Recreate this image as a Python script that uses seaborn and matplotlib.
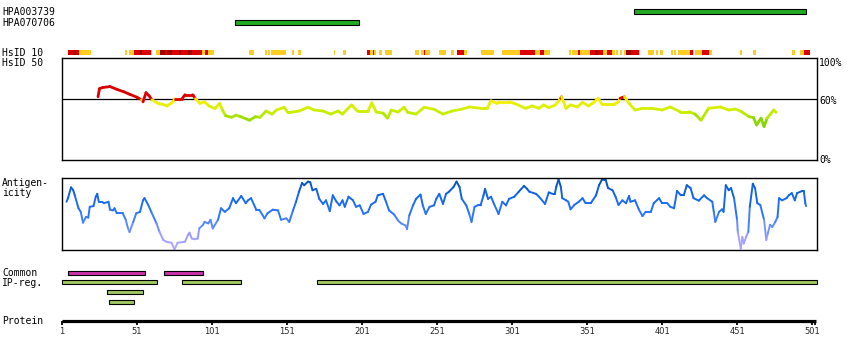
import numpy as np
import pandas as pd
import matplotlib
matplotlib.use("Agg")
import matplotlib.pyplot as plt
import seaborn as sns
from matplotlib.collections import LineCollection
from matplotlib.colors import LinearSegmentedColormap

sns.set_style("white")
plt.rcParams['font.family'] = ['DejaVu Sans Mono', 'DejaVu Sans']

# ---------------- data ----------------
protein_end = 504.3

antibody_names = ["HPA003739", "HPA070706"]
antibody_start = [382, 116]
antibody_end = [497, 199]

# HsID 10 strip: start, end, level (1 = moderate, 2 = high, 3 = very high)
hsid10_start = [5, 8, 10, 12, 43, 45.5, 49, 53, 54, 60, 63.5, 66.5, 69.5, 71, 74, 79, 80, 85, 87.5, 94,
                96.5, 98, 125.5, 136.5, 138.5, 140.5, 154.5, 158.5, 182, 188, 204, 204.5, 206.5, 208,
                209, 212, 216, 236, 240, 242, 243, 252, 260.5, 264, 264.5, 269, 280, 294, 306.5, 316,
                319.5, 322.5, 339, 341, 345, 346.5, 353, 356, 358.5, 361.5, 364.5, 367.5, 370, 373,
                375.5, 377, 380.5, 385.5, 391.5, 397, 399.5, 407, 409, 411.5, 419.5, 421.5, 423,
                427.5, 432, 453, 461.5, 487.5, 493, 495.5]
hsid10_end = [8, 10, 12, 20, 44, 49, 53, 54, 60, 61, 66.5, 69.5, 71, 74, 79, 80, 85, 87.5, 94, 96.5,
              98, 102, 129, 137.5, 139.5, 150, 155.5, 160, 183, 190.5, 204.5, 206.5, 208, 209,
              210.5, 214.5, 221, 239, 242, 243, 246, 257, 262, 264.5, 269, 271, 289, 306.5, 316,
              319.5, 322.5, 326.5, 340, 345, 346.5, 353, 356, 358.5, 361.5, 364.5, 367.5, 369.5,
              371.5, 374, 377, 380.5, 385.5, 386, 395.5, 398, 401.5, 408, 410, 419.5, 421.5, 422,
              427.5, 432, 434, 454, 463.5, 489.5, 495.5, 499.5]
hsid10_level = [2, 3, 2, 1, 1, 1, 2, 3, 2, 1, 1, 3, 2, 3, 2, 3, 2, 3, 2, 1,
                2, 1, 1, 1, 1, 1, 1, 1, 1, 1, 1, 2, 1, 2,
                1, 1, 1, 1, 1, 2, 1, 1, 1, 1, 2, 1, 1, 1, 2, 1,
                2, 1, 1, 1, 2, 1, 2, 3, 2, 1, 2, 1, 1, 1,
                1, 3, 2, 1, 1, 1, 1, 1, 1, 1, 2, 1, 1,
                2, 1, 1, 1, 1, 1, 2]

# HsID 50 identity (%)
hsid50_pos = [25, 26, 28, 33, 38, 42, 46, 51, 54, 55, 57, 59, 61, 65, 68, 71, 75, 76, 81, 83, 88, 90,
              93, 96, 99, 103, 106, 108, 110, 114, 117, 120, 126, 130, 133, 137, 141, 144, 149,
              151.5, 153, 159, 165, 169, 175, 180, 185, 188, 194, 198, 205, 207.5, 210.5, 215, 218,
              220.5, 225, 229, 231.5, 237, 242.5, 249, 255, 261, 268, 272.5, 280, 284.5, 287, 291,
              292.5, 299, 302.5, 310, 314.5, 319, 322, 325.5, 330, 333.5, 334, 337, 340, 344.5, 348,
              352, 355.5, 358.5, 361, 369, 372, 373, 376, 379, 383, 388, 394, 401, 406.5, 413, 419,
              423, 427, 432, 440, 445.5, 450, 454, 459, 462, 464, 467, 469, 471, 475.5, 477]
hsid50_val = [62, 70, 71, 72, 69, 67, 64.5, 61.5, 59, 57, 66, 63, 59, 55.5, 54.6, 53, 57, 60, 60, 64, 64, 60,
              55.5, 57, 53, 50.5, 55.5, 49, 43.4, 41.8, 44, 42.5, 39, 42.5, 41.8, 48, 45, 49, 51.7,
              46.7, 46.7, 48, 51.7, 49, 48, 45, 48, 45, 54, 48, 48, 56, 47, 46, 41,
              49, 47, 51.7, 46.7, 45, 51.7, 49.7, 45, 48, 50, 52, 50.7, 50.7, 58, 55.5,
              57, 57, 55.5, 50.7, 53, 50.7, 54, 51.3, 54, 60.5, 62, 50.7, 54, 52, 56.5,
              53, 56.5, 60.5, 54.6, 54.6, 57, 60.5, 62, 55.5, 49, 50.7, 50.7, 49, 52, 47.3, 47.3,
              45, 39, 50.7, 52, 49, 50, 47.3, 42.5, 41.5, 34.3, 41, 32.7, 41, 49, 46.7]

# Antigenicity (relative, 0..1)
antigen_pos = [4, 5, 7, 8.5, 9.5, 12, 13.5, 15, 17, 18.5, 19.5, 22, 23.5, 24.5, 25.5, 27.5, 29, 32, 33,
               35, 36, 37.5, 41.5, 43.5, 45, 46, 48.5, 50.5, 53, 55, 56, 58.5, 60.5, 64, 66, 68.5,
               70.5, 74, 76, 78, 83, 85, 86, 87.5, 89.5, 91.5, 92.5, 95, 96, 98.5, 100, 101.5, 105,
               107, 109.5, 112.5, 115, 117, 120.5, 123.5, 125, 127, 130.5, 132.5, 136, 138, 141.5,
               145, 147, 150.5, 152.5, 155, 157, 159, 161, 162.5, 165, 166.5, 168, 170.5, 172.5,
               175, 177, 179.5, 181.5, 184, 186, 188, 189.5, 192, 195, 197, 199.5, 202, 205, 207,
               210, 211.5, 215, 217, 219, 222.5, 225, 227, 230, 231, 232.5, 235, 237, 240, 241.5,
               243.5, 246, 249, 250.5, 252.5, 255, 257, 259, 262, 264, 266, 267.5, 270.5, 272.5,
               274, 276, 278, 280, 282, 283, 285, 287, 289, 292, 294.5, 297, 299, 302.5, 305.5, 309,
               311, 312.5, 317, 319, 323, 325.5, 328, 329.5, 330.5, 332, 333.5, 334.5, 337, 338.5,
               340, 342.5, 345.5, 348, 350, 353.5, 357, 359, 361, 363.5, 365, 368, 370, 372, 374.5,
               377, 379, 380, 383, 385.5, 388, 390, 393.5, 395.5, 399, 401, 404.5, 406.5, 409, 411,
               413.5, 415.5, 417.5, 420, 422, 425.5, 429, 431, 434.5, 435.5, 436.5, 439, 441, 442,
               443.5, 445.5, 447, 449, 451, 451.5, 453.5, 454.5, 455.5, 457, 458.5, 459.5, 461.5,
               463, 464.5, 466.5, 469, 470.5, 471.5, 473, 474.5, 476.5, 478, 479, 481, 484, 485.5,
               487.5, 489.5, 491, 494.5, 495.5, 496.5, 497]
antigen_val = [.67, .72, .87, .83, .76, .58, .53, .38, .46, .45, .60, .61, .74, .78, .67, .67, .65, .67, .56,
               .55, .58, .51, .51, .42, .30, .25, .39, .51, .53, .69, .72, .625, .53, .37, .25, .14,
               .115, .10, .01, .10, .115, .21, .24, .16, .15, .16, .30, .35, .39, .37, .42, .30, .42,
               .58, .53, .58, .72, .65, .75, .65, .69, .72, .56, .56, .44, .51, .56,
               .55, .42, .44, .39, .55, .67, .81, .93, .90, .95, .94, .83, .85, .71,
               .64, .69, .54, .76, .67, .62, .69, .60, .74, .69, .60, .62, .50, .53, .63,
               .67, .76, .78, .67, .55, .49, .41, .37, .34, .29, .48, .62, .71, .77, .62,
               .50, .60, .62, .71, .78, .64, .78, .81, .875, .95, .875, .71, .62, .50,
               .39, .60, .62, .62, .76, .85, .71, .74, .64, .50, .67, .62, .71, .74, .81, .89,
               .85, .81, .78, .74, .64, .80, .78, .78, .88, .98, .88, .72, .69, .67,
               .565, .625, .67, .72, .65, .65, .76, .90, .98, .97, .86, .83, .74, .625, .69,
               .65, .75, .67, .69, .565, .47, .53, .53, .65, .72, .65, .65, .60, .58, .82,
               .76, .76, .90, .86, .72, .685, .76, .72, .67, .53, .39, .53, .565, .53,
               .90, .83, .86, .72, .42, .25, .02, .18, .09, .18, .25, .60, .92,
               .86, .65, .625, .42, .14, .23, .35, .32, .39, .46, .72, .69, .72, .76,
               .79, .69, .79, .82, .82, .65, .61]

common_start = [5, 69]
common_end = [56, 95]

ipreg_row1_start = [1, 81, 171]
ipreg_row1_end = [64, 120, 504]
ipreg_row2_start = [31]
ipreg_row2_end = [55]
ipreg_row3_start = [32]
ipreg_row3_end = [49]

tick_values = [1, 51, 101, 151, 201, 251, 301, 351, 401, 451, 501]

# ---------------- layout ----------------
W, H = 850, 360
fig = plt.figure(figsize=(W / 100, H / 100), dpi=100)

LEFT_PX, RIGHT_PX = 62, 817
scale = (RIGHT_PX - LEFT_PX) / (protein_end - 1)

def fx(px):
    return px / W

def fy(py):
    return 1 - py / H

# overlay axes: x in residues, y in pixel rows (top = 0)
ax0 = fig.add_axes([0, 0, 1, 1])
ax0.set_xlim(1 - LEFT_PX / scale, 1 + (W - LEFT_PX) / scale)
ax0.set_ylim(H, 0)
ax0.axis("off")

txt_kw = dict(fontsize=7, color="black", va="center", ha="left",
              family=['DejaVu Sans Mono', 'DejaVu Sans'])

# antibody bars
ab_rows = [11.5, 22]
for name, s, e, yrow in zip(antibody_names, antibody_start, antibody_end, ab_rows):
    fig.text(fx(2), fy(yrow + 0.5), name, **txt_kw)
    ax0.barh(yrow, e - s, left=s, height=5, color="#22aa22", edgecolor="black", linewidth=0.8)

# HsID 10 strip
level_colors = {1: "#ffcc22", 2: "#dd0000", 3: "#a00000"}
strip = pd.DataFrame({"start": hsid10_start, "end": hsid10_end, "level": hsid10_level})
for _, r in strip.iterrows():
    ax0.barh(52.3, r["end"] - r["start"], left=r["start"], height=4.8,
             color=level_colors[int(r["level"])], linewidth=0)
fig.text(fx(2), fy(52.5), "HsID 10", **txt_kw)
fig.text(fx(2), fy(62.5), "HsID 50", **txt_kw)

# Common / IP-reg bars
for s, e in zip(common_start, common_end):
    ax0.barh(272.7, e - s, left=s, height=4, color="#cc33aa", edgecolor="black", linewidth=0.8)
for row_y, starts, ends in [(282.3, ipreg_row1_start, ipreg_row1_end),
                            (292.3, ipreg_row2_start, ipreg_row2_end),
                            (302.2, ipreg_row3_start, ipreg_row3_end)]:
    for s, e in zip(starts, ends):
        ax0.barh(row_y, e - s, left=s, height=4, color="#a0c860", edgecolor="black", linewidth=0.8)
fig.text(fx(2), fy(273), "Common", **txt_kw)
fig.text(fx(2), fy(283.5), "IP-reg.", **txt_kw)

# Protein axis
fig.text(fx(2), fy(320.5), "Protein", **txt_kw)
ax0.plot([1, protein_end - 0.5], [320.7, 320.7], color="black", lw=2.3, solid_capstyle="butt")
ax0.vlines(tick_values + [503], 320.7, 324.5, color="black", lw=1.3)
for t in tick_values:
    ax0.text(t, 331, str(t), fontsize=6, ha="center", va="center", family="DejaVu Sans")

# ---------------- HsID 50 panel ----------------
ax_h = fig.add_axes([fx(LEFT_PX), fy(160), (RIGHT_PX - LEFT_PX) / W, 102 / H])
ax_h.set_xlim(1, protein_end)
ax_h.set_ylim(0, 100)
ax_h.set_xticks([]); ax_h.set_yticks([])
for sp in ax_h.spines.values():
    sp.set_linewidth(1.0); sp.set_color("black"); sp.set_visible(True)
ax_h.axhline(60, color="black", lw=0.9, zorder=1)

id_cmap = LinearSegmentedColormap.from_list(
    "idc", [(0.0, "#66cc00"), (0.35, "#99dd00"), (0.55, "#c4ee00"),
            (0.8, "#e4f000"), (1.0, "#ffee00")])
hx = np.array(hsid50_pos, float); hv = np.array(hsid50_val, float)
segs = [[(hx[i], hv[i]), (hx[i + 1], hv[i + 1])] for i in range(len(hx) - 1)]
cols = []
for i in range(len(hx) - 1):
    m = 0.5 * (hv[i] + hv[i + 1])
    if m >= 59.8:
        cols.append("#dd0000")
    else:
        cols.append(id_cmap(np.clip((m - 30) / 30, 0, 1)))
ax_h.add_collection(LineCollection(segs, colors=cols, linewidths=2.0, capstyle="round", zorder=2))

fig.text(fx(819), fy(62.5), "100%", **txt_kw)
fig.text(fx(819), fy(100.5), "60%", **txt_kw)
fig.text(fx(819), fy(160), "0%", **txt_kw)

# ---------------- Antigenicity panel ----------------
ax_a = fig.add_axes([fx(LEFT_PX), fy(250), (RIGHT_PX - LEFT_PX) / W, 72 / H])
ax_a.set_xlim(1, protein_end)
ax_a.set_ylim(0, 1)
ax_a.set_xticks([]); ax_a.set_yticks([])
for sp in ax_a.spines.values():
    sp.set_linewidth(1.0); sp.set_color("black"); sp.set_visible(True)

ag_cmap = LinearSegmentedColormap.from_list(
    "agc", [(0.0, "#b4aaff"), (0.2, "#9e9cff"), (0.35, "#5a8cff"),
            (0.5, "#2a76ff"), (0.75, "#1166ee"), (1.0, "#0050b0")])
df_ag = pd.DataFrame({"pos": antigen_pos, "val": antigen_val})
ax_vals = df_ag["pos"].to_numpy(float); av = df_ag["val"].to_numpy(float)
segs = [[(ax_vals[i], av[i]), (ax_vals[i + 1], av[i + 1])] for i in range(len(ax_vals) - 1)]
cols = [ag_cmap(0.5 * (av[i] + av[i + 1])) for i in range(len(ax_vals) - 1)]
ax_a.add_collection(LineCollection(segs, colors=cols, linewidths=1.4, capstyle="round"))

fig.text(fx(2), fy(183), "Antigen-", **txt_kw)
fig.text(fx(2), fy(193.5), "icity", **txt_kw)

fig.savefig("out.png", dpi=100, facecolor="white")
